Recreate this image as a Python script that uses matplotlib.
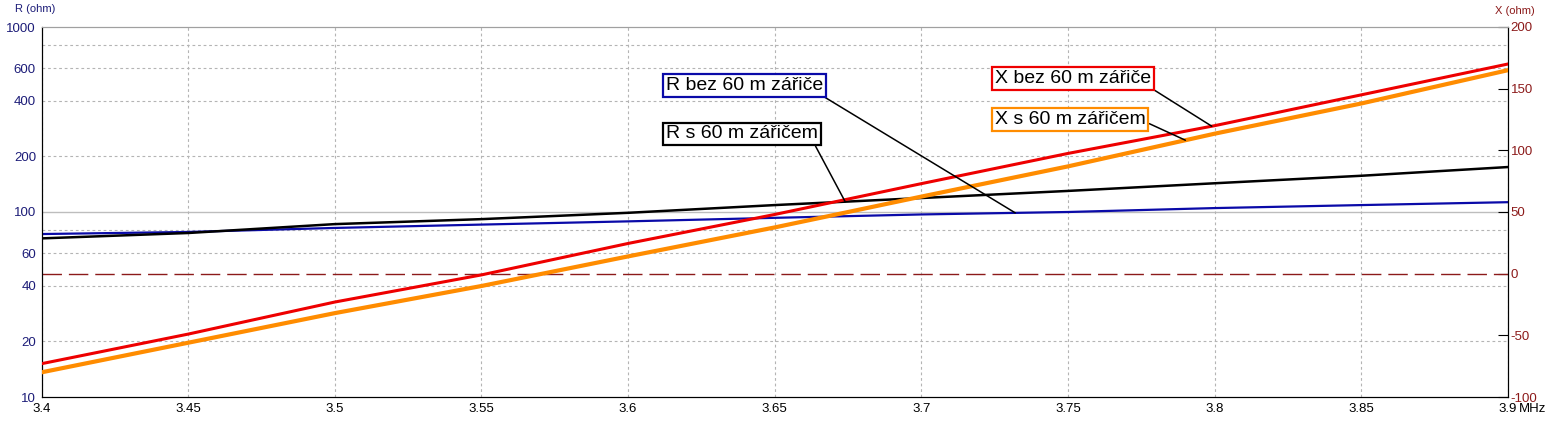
#!/usr/bin/env python

from matplotlib import pyplot as plt
import numpy as np

# frequency (MHz) and impedance
freq = [3.40, 3.45, 3.50, 3.55, 3.60, 3.65, 3.70, 3.75, 3.80, 3.85, 3.90]
r_bez = [76, 78, 82, 85.5, 89, 93, 97, 100, 105, 109, 113]
r_s = [72, 77, 86, 91.5, 99, 109, 119, 130, 143, 157, 175]
x_bez = [-73, -49, -23, -1, 24.5, 48, 73, 97.5, 120, 145, 170]
x_s = [-80, -56, -32, -10, 14, 37.5, 62.5, 87, 113.5, 138, 165]

x_ticks = [3.4, 3.45, 3.5, 3.55, 3.6, 3.65, 3.7, 3.75, 3.8, 3.85, 3.9]
x_ticklabels = ['3.4', '3.45', '3.5', '3.55', '3.6', '3.65', '3.7', '3.75', '3.8', '3.85', '3.9']
r_ticks = [10, 20, 40, 60, 100, 200, 400, 600, 1000]
r_grid = [20, 40, 60, 80, 200, 400, 600, 800]
x_axis_ticks = [-100, -50, 0, 50, 100, 150, 200]

NAVY = '#1c1c78'
DARKRED = '#8c1a1a'
plt.rcParams['font.family'] = ['Liberation Sans', 'DejaVu Sans']
plt.rcParams['axes.unicode_minus'] = False

fig = plt.figure(figsize=(15.52, 4.29), dpi=100)
W, H = 1552.0, 429.0
ax = fig.add_axes([41.5 / W, 1 - 397 / H, (1508 - 41.5) / W, (397 - 27) / H])
ax2 = ax.twinx()

# left axis: R, log scale
ax.set_yscale('log')
ax.set_ylim(10, 1000)
ax.set_xlim(3.4, 3.9)
ax.set_yticks(r_ticks)
ax.set_yticklabels([str(v) for v in r_ticks])
ax.set_yticks(r_grid, minor=True)
ax.yaxis.set_minor_formatter(plt.NullFormatter())
ax.yaxis.remove_overlapping_locs = False
ax.tick_params(axis='y', which='both', length=0, pad=4, labelsize=9.5, labelcolor=NAVY)
ax.set_xticks(x_ticks)
ax.set_xticklabels(x_ticklabels)
ax.tick_params(axis='x', length=0, pad=4, labelsize=9.5)
ax.grid(axis='y', which='minor', color='#b4b4b4', ls=(0, (2.5, 2.5)), lw=0.8)
ax.grid(axis='x', which='major', color='#b4b4b4', ls=(0, (2.5, 2.5)), lw=0.8)
ax.axhline(100, color='#bdbdbd', lw=1.0, zorder=1)

ax.plot(freq, r_bez, color='#0a0aa8', lw=1.6, zorder=3)
ax.plot(freq, r_s, color='black', lw=1.8, zorder=3)

# right axis: X, linear
ax2.set_ylim(-100, 200)
ax2.set_yticks(x_axis_ticks)
ax2.tick_params(axis='y', direction='in', length=7, width=0.8, pad=2, labelsize=9.5,
                labelcolor=DARKRED, color='black')
ax2.axhline(0, color=DARKRED, lw=1.0, ls=(0, (14, 5)), zorder=2)
ax2.plot(freq, x_s, color='#ff8c00', lw=3.0, zorder=3)
ax2.plot(freq, x_bez, color='#ee0000', lw=2.2, zorder=4)

for a in (ax, ax2):
    a.spines['top'].set_color('#a0a0a0')
    a.spines['left'].set_color('black')
    a.spines['right'].set_color('black')
    a.spines['bottom'].set_color('black')
    a.patch.set_visible(False)
ax.patch.set_visible(True)
ax.patch.set_facecolor('white')

fig.text(15 / W, 1 - 9 / H, 'R (ohm)', color=NAVY, fontsize=8, va='center', ha='left')
fig.text(1535 / W, 1 - 11 / H, 'X (ohm)', color=DARKRED, fontsize=8, va='center', ha='right')
fig.text(1519 / W, 1 - 409 / H, 'MHz', fontsize=9.5, va='center', ha='left')


def label(text, color, f, series, trans, xt, yt, relpos):
    y = np.interp(f, freq, series)
    ax2.annotate(text, xy=(f, y), xycoords=trans, xytext=(xt, yt), textcoords='axes fraction',
                 fontsize=14, ha='left', va='center', zorder=10,
                 bbox=dict(boxstyle='square,pad=0.15', fc='white', ec=color, lw=1.6),
                 arrowprops=dict(arrowstyle='-', color='black', lw=1.1, relpos=relpos,
                                 shrinkA=0, shrinkB=0))


label('R bez 60 m zářiče', '#0a0aa8', 3.732, r_bez, ax.transData, 0.426, 0.843, (0.97, 0.0))
label('R s 60 m zářičem', 'black', 3.674, r_s, ax.transData, 0.426, 0.711, (0.97, 0.0))
label('X bez 60 m zářiče', '#ee0000', 3.799, x_bez, ax2.transData, 0.650, 0.861, (0.99, 0.0))
label('X s 60 m zářičem', '#ff8c00', 3.790, x_s, ax2.transData, 0.650, 0.750, (0.99, 0.4))

fig.savefig('out.png', dpi=100, facecolor='white')
